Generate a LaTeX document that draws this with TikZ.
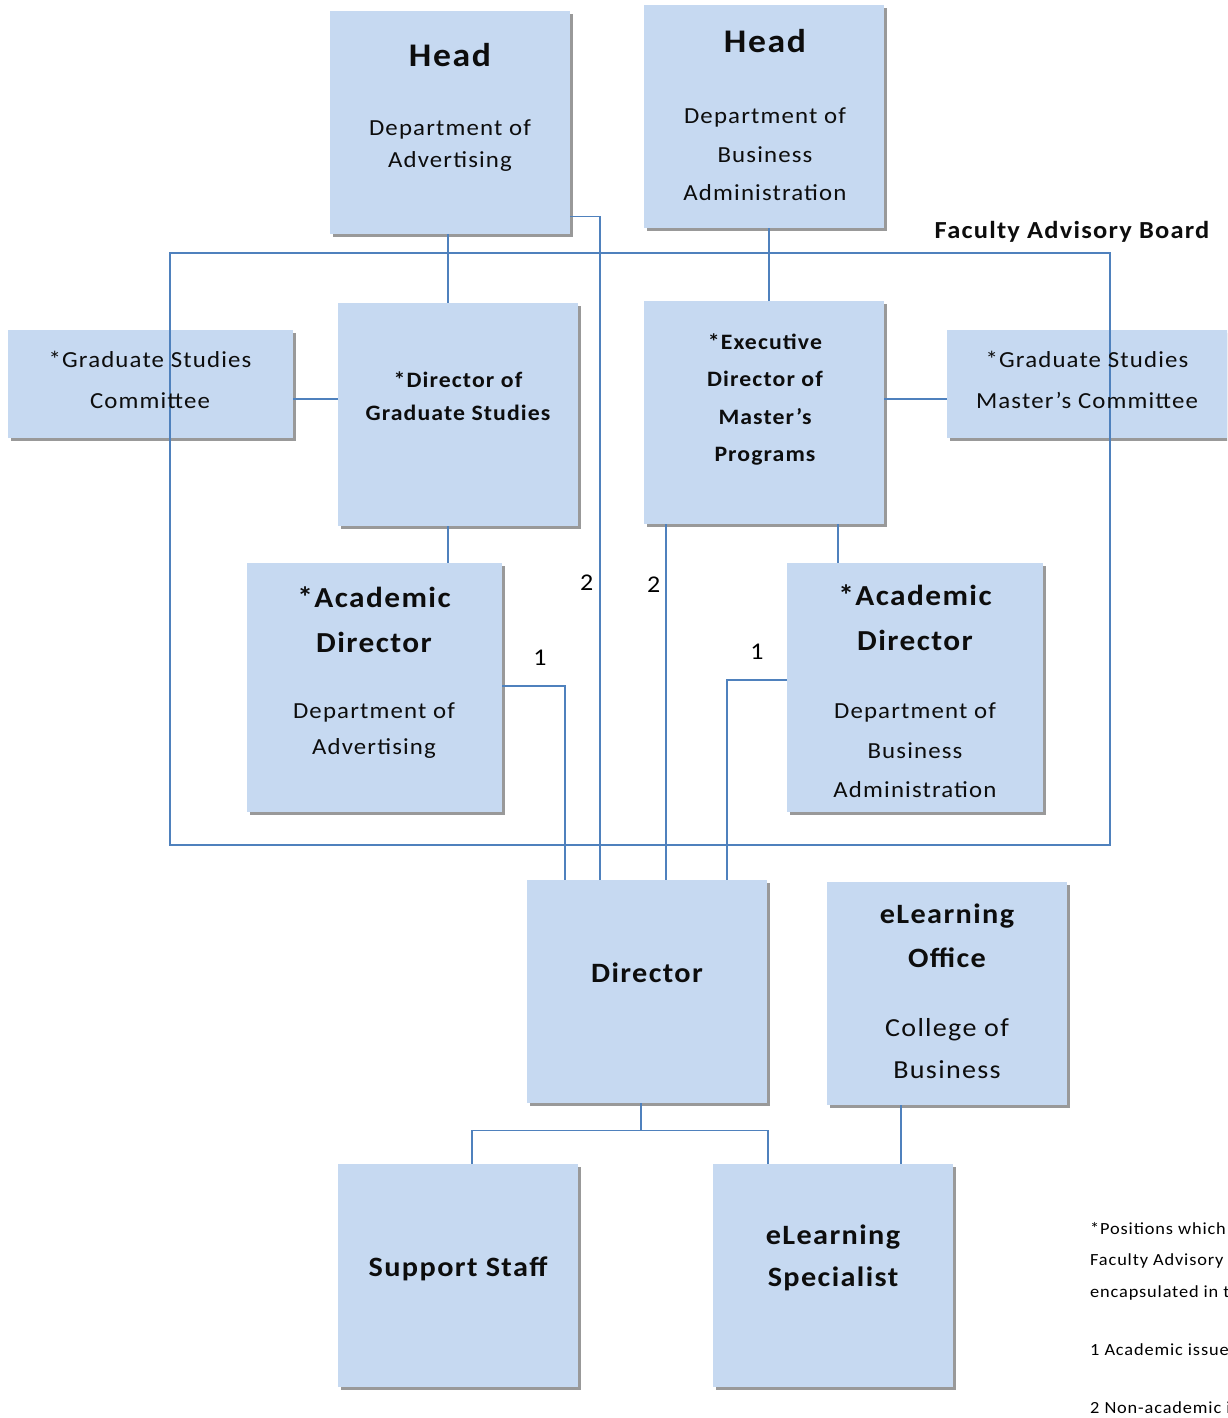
\documentclass[tikz,border=0pt]{standalone}
\usepackage{fontspec}
\setmainfont{Carlito}[FakeStretch=1.08,LetterSpace=5]
\usetikzlibrary{shadows}
\definecolor{boxblue}{HTML}{C6D9F1}
\definecolor{linkblue}{HTML}{4F81BD}
\newcommand{\fs}[2]{\fontsize{#1}{#2}\selectfont}
\tikzset{
  box/.style={fill=boxblue, inner sep=0pt, minimum width=240, minimum height=223,
    drop shadow={shadow xshift=3pt, shadow yshift=-3pt, fill=black, opacity=.4}},
  widebox/.style={box, minimum width=285, minimum height=108},
  link/.style={draw=linkblue, line width=1.4pt},
  txt/.style={align=center, inner sep=0pt, text=black!95},
  num/.style={inner sep=0pt, font=\fs{24}{28}}
}
\begin{document}
\begin{tikzpicture}[x=1pt, y=-1pt]
	\useasboundingbox (0,0) rectangle (1227,1418);
	\clip (0,0) rectangle (1227,1418);
	% boxes
	\node[box] (hadv) at (450,122.5) {};
	\node[box] (hbus) at (764,116.5) {};
	\node[widebox] (gsc) at (150.5,384) {};
	\node[box] (dgs) at (458,414.5) {};
	\node[box] (edmp) at (764,412.5) {};
	\node[widebox] (gsmc) at (1089.5,384) {};
	\node[box, minimum width=255, minimum height=249] (ad1) at (374.5,687.5) {};
	\node[box, minimum width=256, minimum height=249] (ad2) at (915,687.5) {};
	\node[box] (dir) at (647,991.5) {};
	\node[box] (elo) at (947,993.5) {};
	\node[box] (ss) at (458,1275.5) {};
	\node[box] (els) at (833,1275.5) {};
	% faculty advisory board
	\node[draw=linkblue, line width=1.4pt, minimum width=940, minimum height=592, inner sep=0pt] (fab) at (640,549) {};
	\node[txt, font=\fs{24.5}{28}\bfseries] (fablabel) at (1072,232) {Faculty Advisory Board};
	% texts
	\node[txt, font=\fs{33}{40}\bfseries] (hadvt) at (450,55) {Head};
	\node[txt, font=\fs{23}{32}] (hadvs) at (450,146) {Department of\\Advertising};
	\node[txt, font=\fs{33}{40}\bfseries] (hbust) at (765,41) {Head};
	\node[txt, font=\fs{23}{38.5}] (hbuss) at (765,154.5) {Department of\\Business\\Administration};
	\node[txt, font=\fs{23}{41}] (gsct) at (150,379.5) {*Graduate Studies\\Committee};
	\node[txt, font=\fs{22}{33}\bfseries] (dgst) at (458,396.5) {*Director of\\Graduate Studies};
	\node[txt, font=\fs{22}{37.3}\bfseries] (edmpt) at (765,399.5) {*Executive\\Director of\\Master’s\\Programs};
	\node[txt, font=\fs{23}{41}] (gsmct) at (1087,379.5) {*Graduate Studies\\Master’s Committee};
	\node[txt, font=\fs{29}{45}\bfseries] (ad1t) at (374,619.5) {*Academic\\Director};
	\node[txt, font=\fs{23}{36}] (ad1s) at (374,731) {Department of\\Advertising};
	\node[txt, font=\fs{29}{45}\bfseries] (ad2t) at (915,617.5) {*Academic\\Director};
	\node[txt, font=\fs{23}{39.5}] (ad2s) at (915,750.5) {Department of\\Business\\Administration};
	\node[txt, font=\fs{28}{40}\bfseries] (dirt) at (647,973) {Director};
	\node[txt, font=\fs{28}{44}\bfseries] (elot) at (947,936) {eLearning\\Office};
	\node[txt, font=\fs{26}{42}] (elos) at (947,1049) {College of\\Business};
	\node[txt, font=\fs{28}{40}\bfseries] (sst) at (458,1269) {Support Staff};
	\node[txt, font=\fs{28}{42}\bfseries] (elst) at (833,1258) {eLearning\\Specialist};
	% connectors
	\draw[link] (hadv.south -| 448,0) -- (dgs.north -| 448,0);
	\draw[link] ([yshift=18pt]hadv.south east) -| ([xshift=-47pt]dir.north)
		node[num, pos=.776, left=6pt] {2};
	\draw[link] (hbus.south -| 769,0) -- (edmp.north -| 769,0);
	\draw[link] ([xshift=-98pt]edmp.south) -- ([xshift=-98pt]edmp.south |- dir.north)
		node[num, pos=.17, left=5pt] {2};
	\draw[link] ([xshift=-10pt]dgs.south) -- ([xshift=-10pt]dgs.south |- ad1.north);
	\draw[link] ([xshift=74pt]edmp.south) -- ([xshift=74pt]edmp.south |- ad2.north);
	\draw[link] ([yshift=-15pt]gsc.east) -- ([yshift=-15pt]gsc.east -| dgs.west);
	\draw[link] ([yshift=13.5pt]edmp.east) -- ([yshift=13.5pt]edmp.east -| gsmc.west);
	\draw[link] ([yshift=1.5pt]ad1.east) -| ([xshift=-82pt]dir.north)
		node[num, pos=.3, above=20pt] {1};
	\draw[link] ([yshift=7.5pt]ad2.west) -| ([xshift=80pt]dir.north)
		node[num, pos=.25, above=20pt] {1};
	\draw[link] ([xshift=-6pt]dir.south) -- ++(0,27) coordinate (fork);
	\draw[link] (fork) -| ([xshift=14pt]ss.north);
	\draw[link] (fork) -| ([xshift=-65pt]els.north);
	\draw[link] ([xshift=-46pt]elo.south) -- ([xshift=-46pt]elo.south |- els.north);
	% notes
	\node[inner sep=0pt, align=left, anchor=west, font=\fs{17}{31.5}] (note) at (1090,1261)
		{*Positions which are part of the\\Faculty Advisory Board are\\encapsulated in the box};
	\node[inner sep=0pt, anchor=west, font=\fs{17}{20}] (key1) at (1090,1350) {1 Academic issues};
	\node[inner sep=0pt, anchor=west, font=\fs{17}{20}] (key2) at (1090,1408) {2 Non-academic issues};
\end{tikzpicture}
\end{document}
